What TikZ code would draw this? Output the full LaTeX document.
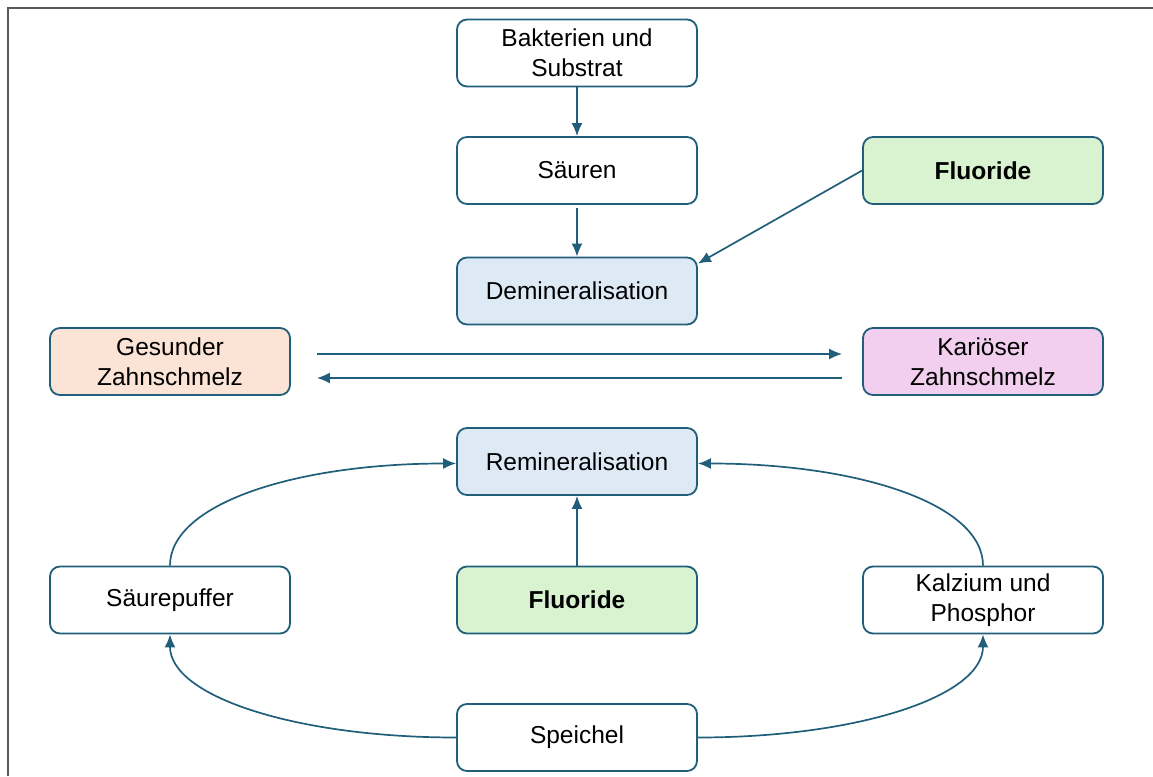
\documentclass[tikz,border=0pt]{standalone}
\usepackage{fontspec}
\setmainfont{Liberation Sans}
\usetikzlibrary{arrows.meta}

\definecolor{edgeblue}{RGB}{32,94,122}
\definecolor{demfill}{RGB}{221,234,246}
\definecolor{fluofill}{RGB}{217,242,208}
\definecolor{gesfill}{RGB}{251,227,214}
\definecolor{karfill}{RGB}{242,207,238}

\begin{document}
\begin{tikzpicture}[x=1pt,y=1pt,>={Latex[length=13pt,width=11pt]},font=\fontsize{24.5}{30}\selectfont]

	\tikzset{box st/.style={draw=edgeblue, line width=1.8pt, rounded corners=10pt,
			fill=white, minimum width=240pt, minimum height=67pt,
			align=center, text=black},
		link st/.style={->, draw=edgeblue, line width=1.7pt}}

	\useasboundingbox (0,0) rectangle (1153,776);
	\draw[gray!70!black, line width=1.5pt] (8,0) -- (8,768) -- (1153,768);

	\node[box st] (B) at (577,723) {Bakterien und\\Substrat};
	\node[box st] (S) at (577,605.5) {Säuren};
	\node[box st, fill=fluofill] (F1) at (983,605.5) {\textbf{Fluoride}};
	\node[box st, fill=demfill] (D) at (577,485) {Demineralisation};
	\node[box st, fill=gesfill] (G) at (170,414.5) {Gesunder\\Zahnschmelz};
	\node[box st, fill=karfill] (K) at (983,414.5) {Kariöser\\Zahnschmelz};
	\node[box st, fill=demfill] (R) at (577,314.5) {Remineralisation};
	\node[box st] (P) at (170,176) {Säurepuffer};
	\node[box st, fill=fluofill] (F2) at (577,176) {\textbf{Fluoride}};
	\node[box st] (C) at (983,176) {Kalzium und\\Phosphor};
	\node[box st] (SP) at (577,38.5) {Speichel};

	\draw[link st] (B) -- (S);
	\draw[link st, shorten <=3pt] (S) -- (D);
	\draw[link st] (F1.west) -- ([yshift=-7pt]D.north east);
	\draw[link st, shorten <=26pt, shorten >=20pt] ([yshift=7.5pt]G.east) -- ([yshift=7.5pt]K.west);
	\draw[link st, shorten <=20pt, shorten >=26pt] ([yshift=-16.5pt]K.west) -- ([yshift=-16.5pt]G.east);
	\draw[link st] (F2) -- (R);
	% quarter-ellipse style arcs round the middle column
	\draw[link st] (P.north) .. controls +(0,62) and +(-160,0) .. ([yshift=-2pt]R.west);
	\draw[link st] (C.north) .. controls +(0,62) and +(160,0) .. ([yshift=-2pt]R.east);
	\draw[link st] (SP.west) .. controls +(-160,0) and +(0,-62) .. (P.south);
	\draw[link st] (SP.east) .. controls +(160,0) and +(0,-62) .. (C.south);

\end{tikzpicture}
\end{document}
